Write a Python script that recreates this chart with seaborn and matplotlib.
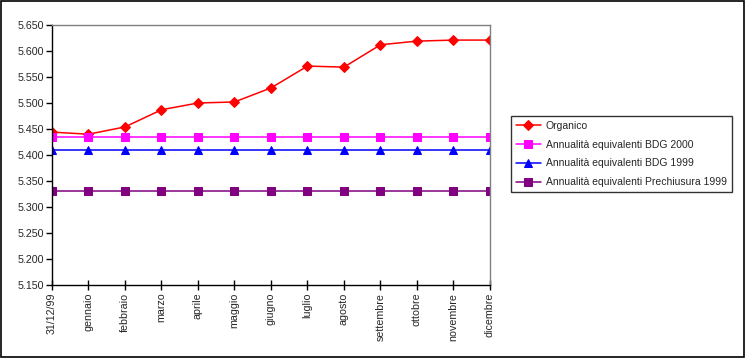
import matplotlib
matplotlib.use("Agg")
import matplotlib.pyplot as plt
import matplotlib.ticker as mticker
import seaborn as sns
import pandas as pd

# --- data ---
months = ['31/12/99', 'gennaio', 'febbraio', 'marzo', 'aprile', 'maggio', 'giugno',
          'luglio', 'agosto', 'settembre', 'ottobre', 'novembre', 'dicembre']
organico = [5444, 5440, 5454, 5487, 5500, 5502, 5529, 5571, 5569, 5612, 5619, 5621, 5621]
bdg_2000 = [5435] * 13
bdg_1999 = [5409] * 13
prechiusura_1999 = [5331] * 13

series_names = ['Organico', 'Annualità equivalenti BDG 2000',
                'Annualità equivalenti BDG 1999', 'Annualità equivalenti Prechiusura 1999']
series_values = [organico, bdg_2000, bdg_1999, prechiusura_1999]
colors = ['#FF0000', '#FF00FF', '#0000FF', '#800080']
markers = ['D', 's', '^', 's']
marker_sizes = [5.5, 6, 6, 6]

rows = []
for name, vals in zip(series_names, series_values):
    for i, v in enumerate(vals):
        rows.append({'pos': i, 'month': months[i], 'value': v, 'series': name})
df = pd.DataFrame(rows)

sns.set_style("white")
plt.rcParams['font.family'] = ['Liberation Sans', 'DejaVu Sans']
plt.rcParams['font.size'] = 7.5

fig = plt.figure(figsize=(7.45, 3.58), dpi=100)
ax = fig.add_axes([52 / 745, 1 - 285 / 358, (490 - 52) / 745, (285 - 25) / 358])

for name, c, m, ms in zip(series_names, colors, markers, marker_sizes):
    sub = df[df['series'] == name]
    sns.lineplot(data=sub, x='pos', y='value', ax=ax, color=c, marker=m,
                 markersize=ms, markeredgecolor=c, linewidth=1.1, label=name)

ax.set_xlim(0, len(months) - 1)
ax.set_ylim(5150, 5650)
ax.set_xticks(range(len(months)))
ax.set_xticklabels(months, rotation=90)
ax.yaxis.set_major_locator(mticker.MultipleLocator(50))
ax.yaxis.set_major_formatter(mticker.FuncFormatter(lambda v, p: f"{int(v):,}".replace(',', '.')))
ax.set_xlabel('')
ax.set_ylabel('')

for side in ['left', 'bottom']:
    ax.spines[side].set_color('black')
    ax.spines[side].set_linewidth(1.0)
for side in ['top', 'right']:
    ax.spines[side].set_color('#808080')
    ax.spines[side].set_linewidth(1.0)

ax.tick_params(axis='y', direction='out', length=4, width=1, color='black', pad=2, labelsize=7.7)
ax.tick_params(axis='x', direction='inout', length=7, width=1, color='black', pad=2, labelsize=7.7)
ax.tick_params(left=True, bottom=True)

ax.get_legend().remove()
handles, labels = ax.get_legend_handles_labels()
leg = fig.legend(handles, labels, loc='upper left', bbox_to_anchor=(511 / 745, 1 - 116 / 358),
                 fancybox=False, frameon=True, edgecolor='black', fontsize=7.5,
                 handlelength=2.4, handletextpad=0.5, borderpad=0.45, labelspacing=0.85,
                 borderaxespad=0, markerscale=0.9)
leg.get_frame().set_linewidth(1.0)

# outer chart border
fig.patches.append(plt.Rectangle((0.001, 0.002), 0.997, 0.995, transform=fig.transFigure,
                                 fill=False, edgecolor='black', linewidth=1.2))

fig.savefig('out.png', dpi=100)
